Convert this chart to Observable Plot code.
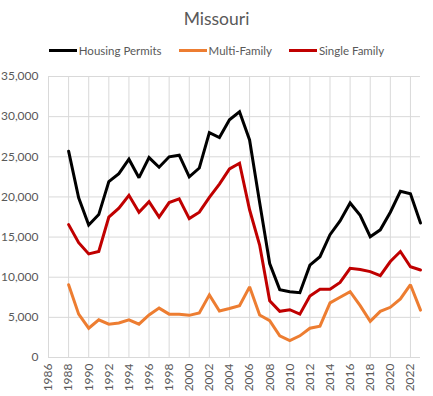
<!DOCTYPE html>
<html>
<head>
<meta charset="utf-8">
<script src="https://cdn.jsdelivr.net/npm/d3@7"></script>
<script src="https://cdn.jsdelivr.net/npm/@observablehq/plot@0.6"></script>
<style>
  html, body { margin: 0; padding: 0; background: #fff; }
  #wrap { width: 433px; height: 396px; font-family: Lato, "Open Sans", sans-serif; color: #595959; }
  #title { height: 36px; line-height: 38px; text-align: center; font-size: 17.5px; }
  #legend { height: 28px; display: flex; justify-content: center; align-items: center; gap: 17px; font-size: 11.5px; }
  .item { display: flex; align-items: center; gap: 2px; }
  .sw { width: 28px; height: 3px; display: inline-block; }
  svg { display: block; }
</style>
</head>
<body>
<div id="wrap">
  <div id="title">Missouri</div>
  <div id="legend"></div>
  <div id="chart"></div>
</div>
<script>
const years = d3.range(1988, 2024);
const seriesNames = ["Housing Permits", "Multi-Family", "Single Family"];
const seriesColors = ["#000000", "#ED7D31", "#C00000"];
const housingPermits = [25700,19900,16500,17800,21900,22900,24700,22400,24900,23700,25000,25200,22500,23600,28000,27400,29600,30600,27100,19300,11700,8450,8200,8070,11500,12550,15300,17000,19250,17700,15050,15900,18100,20700,20400,16750];
const multiFamily = [9070,5400,3650,4700,4150,4300,4700,4150,5300,6150,5400,5400,5250,5550,7800,5800,6100,6450,8800,5300,4600,2700,2100,2700,3650,3900,6800,7500,8200,6450,4500,5750,6250,7300,9070,5900];
const singleFamily = [16550,14300,12900,13200,17500,18600,20200,18100,19400,17500,19300,19750,17300,18100,19950,21600,23500,24200,18400,14000,7070,5750,5950,5400,7650,8500,8500,9350,11100,10950,10700,10200,11950,13200,11300,10900];
const xTicks = d3.range(1986, 2023, 2);
const yTicks = d3.range(0, 35001, 5000);

const allSeries = [housingPermits, multiFamily, singleFamily];
const rows = [];
allSeries.forEach((vals, i) => vals.forEach((v, j) => rows.push({year: years[j], value: v, series: seriesNames[i]})));

// legend
const legend = document.getElementById("legend");
seriesNames.forEach((n, i) => {
  const it = document.createElement("div");
  it.className = "item";
  it.innerHTML = `<span class="sw" style="background:${seriesColors[i]}"></span><span>${n}</span>`;
  legend.appendChild(it);
});

const chart = Plot.plot({
  width: 433,
  height: 332,
  marginTop: 12,
  marginBottom: 39,
  marginLeft: 48,
  marginRight: 13,
  style: {fontFamily: "Lato, 'Open Sans', sans-serif", fontSize: "12px", color: "#595959", background: "#fff"},
  x: {domain: [1986, 2023], ticks: xTicks, tickFormat: d => String(d), tickRotate: -90, tickSize: 0, tickPadding: 6, label: null},
  y: {domain: [0, 35000], ticks: yTicks, tickFormat: d3.format(","), tickSize: 0, tickPadding: 10, label: null},
  color: {domain: seriesNames, range: seriesColors},
  marks: [
    Plot.gridX(xTicks, {stroke: "#d9d9d9", strokeOpacity: 1, strokeWidth: 1}),
    Plot.gridY(yTicks, {stroke: "#d9d9d9", strokeOpacity: 1, strokeWidth: 1}),
    Plot.lineY(rows, {x: "year", y: "value", z: "series", stroke: "series", strokeWidth: 3, strokeLinejoin: "miter", strokeMiterlimit: 2})
  ]
});
document.getElementById("chart").appendChild(chart);
</script>
</body>
</html>
